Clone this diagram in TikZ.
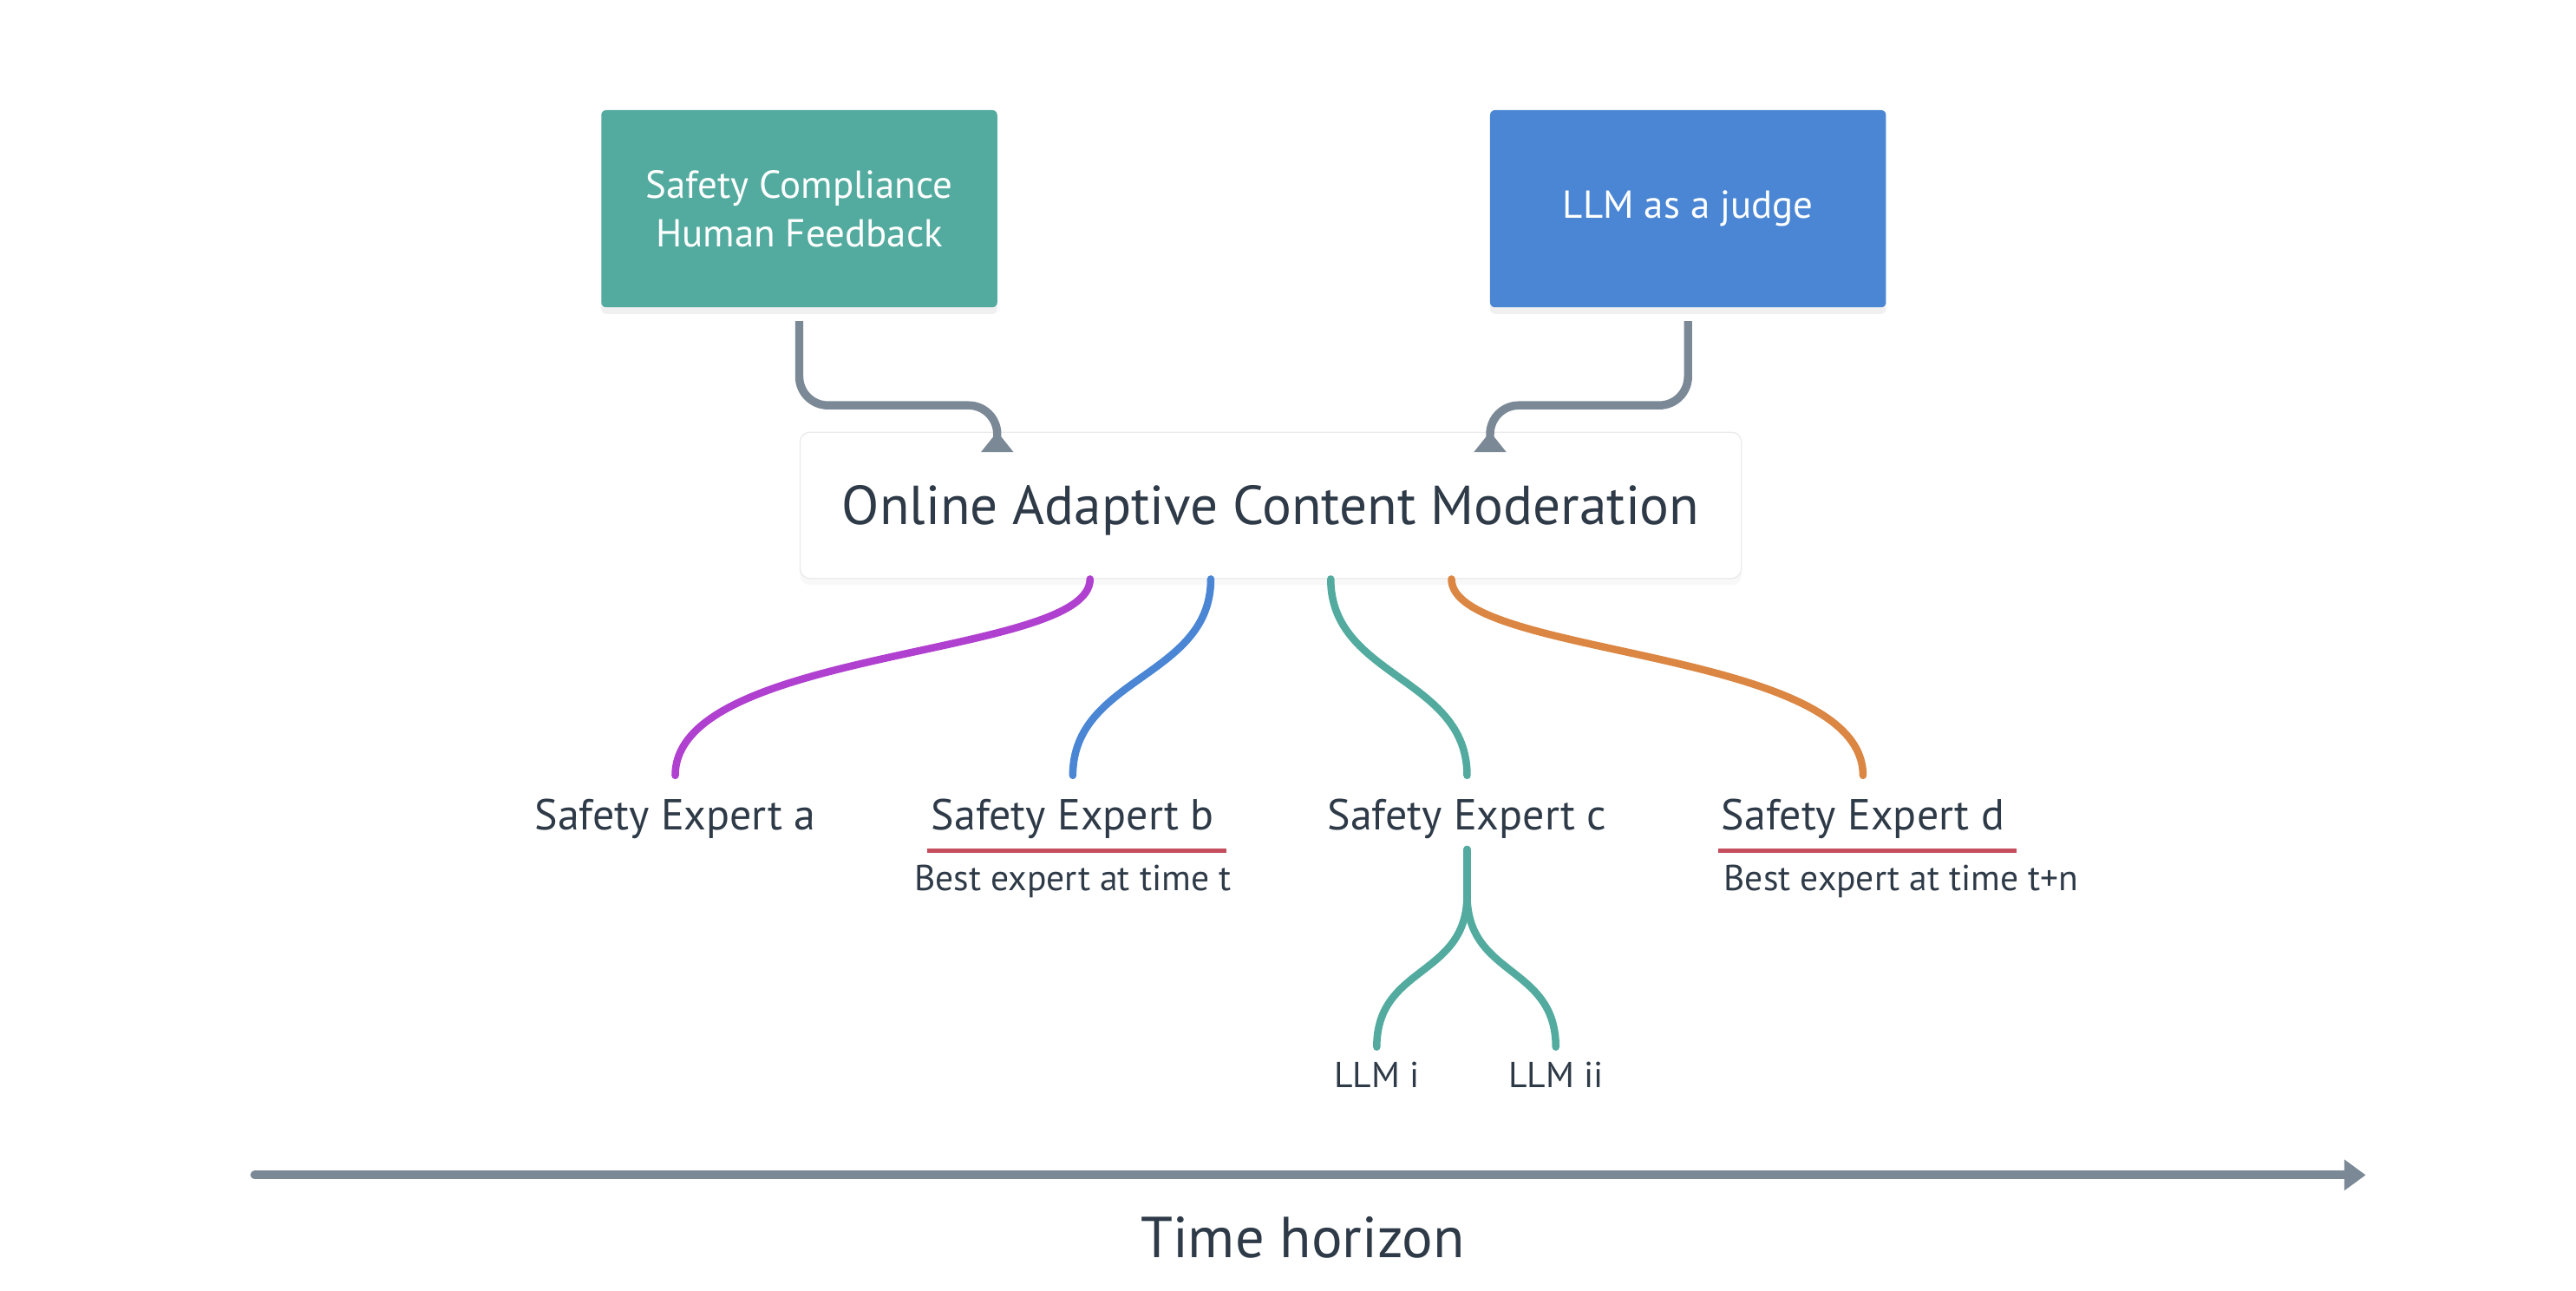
\documentclass[tikz,border=0pt]{standalone}
\usepackage{fontspec}
\setmainfont{PT Sans}
\usetikzlibrary{arrows.meta,shadows}
\definecolor{ink}{HTML}{2E3A47}
\definecolor{wire}{HTML}{7B8896}
\definecolor{cteal}{HTML}{52AB9E}
\definecolor{cblue}{HTML}{4A86D4}
\definecolor{cpurple}{HTML}{B040CF}
\definecolor{corange}{HTML}{DB8642}
\definecolor{cred}{HTML}{C44E5E}
\begin{document}
\begin{tikzpicture}[x=0.2mm, y=-0.2mm,
        card/.style={minimum width=48.2mm, minimum height=24mm, rounded corners=0.6mm, text=white, align=center,
            font=\fontsize{13.5}{17}\selectfont, drop shadow={opacity=0.12, shadow xshift=0mm, shadow yshift=-0.8mm}},
        flow/.style={draw=wire, line width=1mm, -{Triangle[width=3.8mm, length=2.5mm]}},
        branch/.style={line width=0.9mm, line cap=round},
        expert/.style={anchor=base, inner sep=0, text=ink, font=\fontsize{15}{18}\selectfont},
        note/.style={anchor=base, inner sep=0, text=ink, font=\fontsize{12.5}{15}\selectfont},
        bestline/.style={draw=cred, line width=0.5mm}]
    \useasboundingbox (0,0) rectangle (1568,785.5);
    \node[card, fill=cteal] (shf) at (486.5,127) {Safety Compliance\\Human Feedback};
    \node[card, fill=cblue] (judge) at (1027.5,127) {LLM as a judge};
    \node[draw=black!8, fill=white, rounded corners=1.2mm, minimum width=114.6mm, minimum height=17.8mm, text=ink, text depth=0pt,
        font=\fontsize{19}{23}\selectfont, drop shadow={opacity=0.06, shadow xshift=0mm, shadow yshift=-0.8mm}] (oacm) at (773.5,307.5) {Online Adaptive Content Moderation};
    \draw[flow] ([yshift=-1.6mm]shf.south) [rounded corners=3.5mm] |- ([xshift=-33.3mm, yshift=3.2mm]oacm.north) [rounded corners=0.8mm] -- ([xshift=-33.3mm]oacm.north);
    \draw[flow] ([yshift=-1.6mm]judge.south) [rounded corners=3.5mm] |- ([xshift=26.7mm, yshift=3.2mm]oacm.north) [rounded corners=0.8mm] -- ([xshift=26.7mm]oacm.north);
    % experts
    \foreach \n/\x/\l in {ea/411/a, eb/653/b, ec/893/c, ed/1134/d}
        \node[expert] (\n) at (\x,505) {Safety Expert \l};
    \foreach \s/\n/\c/\p/\q in {-22/ea/cpurple/48/78, -7.3/eb/cblue/60/60, 7.3/ec/cteal/60/60, 22/ed/corange/48/78}
        \draw[branch, draw=\c] ([xshift=\s mm]oacm.south) .. controls +(0,\p) and +(0,-\q) .. ([yshift=2.8mm]\n.north);
    \foreach \n in {eb, ed}
        \draw[bestline] ([xshift=-0.4mm, yshift=-1.4mm]\n.south west) -- ++(36.4mm,0);
    \node[note] (bt) at (653,542) {Best expert at time t};
    \node[note, anchor=base west] (btn) at (1049,542) {Best expert at time t+n};
    % LLMs under expert c
    \node[note] (li) at (838,662) {LLM i};
    \node[note] (lii) at (947,662) {LLM ii};
    \draw[branch, draw=cteal] ([yshift=-1.2mm]ec.south) -- ++(0,28) coordinate (fork);
    \foreach \n in {li, lii}
        \draw[branch, draw=cteal] (fork) .. controls +(0,50) and +(0,-50) .. ([yshift=1.8mm]\n.north);
    % time axis
    \coordinate (t0) at (155,715);
    \coordinate (t1) at (1440,715);
    \draw[draw=wire, line width=1.05mm, line cap=round, -{Triangle[width=3.6mm, length=2.6mm]}] (t0) -- (t1);
    \node[anchor=base, inner sep=0, text=ink, font=\fontsize{20}{24}\selectfont] (th) at (793,765) {Time horizon};
\end{tikzpicture}
\end{document}
